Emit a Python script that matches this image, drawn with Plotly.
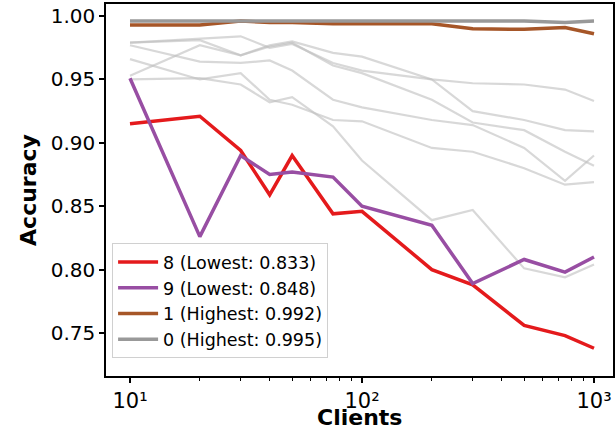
import plotly.graph_objects as go

clients = [10, 20, 30, 40, 50, 75, 100, 200, 300, 500, 750, 1000]

acc_8 = [0.915, 0.921, 0.894, 0.859, 0.890, 0.844, 0.846, 0.800, 0.788, 0.756, 0.748, 0.738]
acc_9 = [0.951, 0.826, 0.890, 0.875, 0.877, 0.873, 0.850, 0.835, 0.789, 0.808, 0.798, 0.810]
acc_1 = [0.993, 0.993, 0.996, 0.995, 0.995, 0.994, 0.994, 0.994, 0.990, 0.9895, 0.991, 0.986]
acc_0 = [0.996, 0.996, 0.996, 0.996, 0.996, 0.996, 0.996, 0.996, 0.996, 0.996, 0.995, 0.996]

others = {
    "2": [0.979, 0.982, 0.984, 0.975, 0.978, 0.963, 0.957, 0.950, 0.947, 0.946, 0.942, 0.933],
    "3": [0.979, 0.981, 0.969, 0.977, 0.980, 0.971, 0.968, 0.950, 0.925, 0.918, 0.910, 0.909],
    "4": [0.953, 0.977, 0.969, 0.976, 0.979, 0.961, 0.955, 0.934, 0.916, 0.910, 0.893, 0.882],
    "5": [0.977, 0.964, 0.963, 0.965, 0.957, 0.934, 0.928, 0.918, 0.914, 0.896, 0.870, 0.890],
    "6": [0.966, 0.950, 0.955, 0.934, 0.930, 0.918, 0.917, 0.896, 0.893, 0.880, 0.867, 0.869],
    "7": [0.950, 0.951, 0.946, 0.932, 0.936, 0.913, 0.886, 0.839, 0.847, 0.801, 0.794, 0.804],
}

x_ticks = [10, 100, 1000]
x_tick_labels = ["10¹", "10²", "10³"]

highlight = [
    ("8 (Lowest: 0.833)", acc_8, "#e41a1c"),
    ("9 (Lowest: 0.848)", acc_9, "#984ea3"),
    ("1 (Highest: 0.992)", acc_1, "#a65628"),
    ("0 (Highest: 0.995)", acc_0, "#999999"),
]

fig = go.Figure()
for name, vals in others.items():
    fig.add_trace(go.Scatter(x=clients, y=vals, mode="lines", showlegend=False,
                             line=dict(color="rgba(190,190,190,0.6)", width=2.2),
                             hoverinfo="skip"))
for name, vals, color in highlight:
    fig.add_trace(go.Scatter(x=clients, y=vals, mode="lines", name=name,
                             line=dict(color=color, width=3.5)))

font = "DejaVu Sans, sans-serif"
fig.update_layout(
    width=616, height=429,
    margin=dict(l=106, r=3, t=4, b=53),
    plot_bgcolor="white", paper_bgcolor="white",
    font=dict(family=font, color="black"),
    legend=dict(x=0.012, y=0.357, xanchor="left", yanchor="top",
                bordercolor="#d0d0d0", borderwidth=1, bgcolor="rgba(255,255,255,0.8)",
                font=dict(size=17.5, family=font), tracegroupgap=0, itemwidth=40),
    xaxis=dict(type="log", range=[0.8966, 3.0819], automargin=False,
               tickvals=x_ticks, ticktext=x_tick_labels,
               ticks="outside", ticklen=5, tickwidth=1.5, tickcolor="black",
               tickfont=dict(size=21),
               minor=dict(tickvals=[20, 30, 40, 50, 60, 70, 80, 90, 200, 300, 400, 500, 600, 700, 800, 900],
                          ticks="outside", ticklen=3, tickcolor="black", tickwidth=1),
               showgrid=False, zeroline=False,
               showline=True, linecolor="black", linewidth=1.5, mirror=True),
    yaxis=dict(range=[0.7161, 1.0095], automargin=False,
               tickvals=[0.75, 0.80, 0.85, 0.90, 0.95, 1.00],
               ticktext=["0.75", "0.80", "0.85", "0.90", "0.95", "1.00"],
               ticks="outside", ticklen=5, tickwidth=1.5, tickcolor="black",
               tickfont=dict(size=20),
               showgrid=False, zeroline=False,
               showline=True, linecolor="black", linewidth=1.5, mirror=True,
               title=dict(text="<b>Accuracy</b>", font=dict(size=22), standoff=8)),
    annotations=[dict(text="<b>Clients</b>", xref="paper", yref="paper",
                      x=0.5, y=-0.112, xanchor="center", yanchor="middle",
                      showarrow=False, font=dict(size=22, family=font))],
)

fig.write_html("out.html", config={"displayModeBar": False},
               post_script="document.body.style.margin='0';document.body.style.overflow='hidden';")
